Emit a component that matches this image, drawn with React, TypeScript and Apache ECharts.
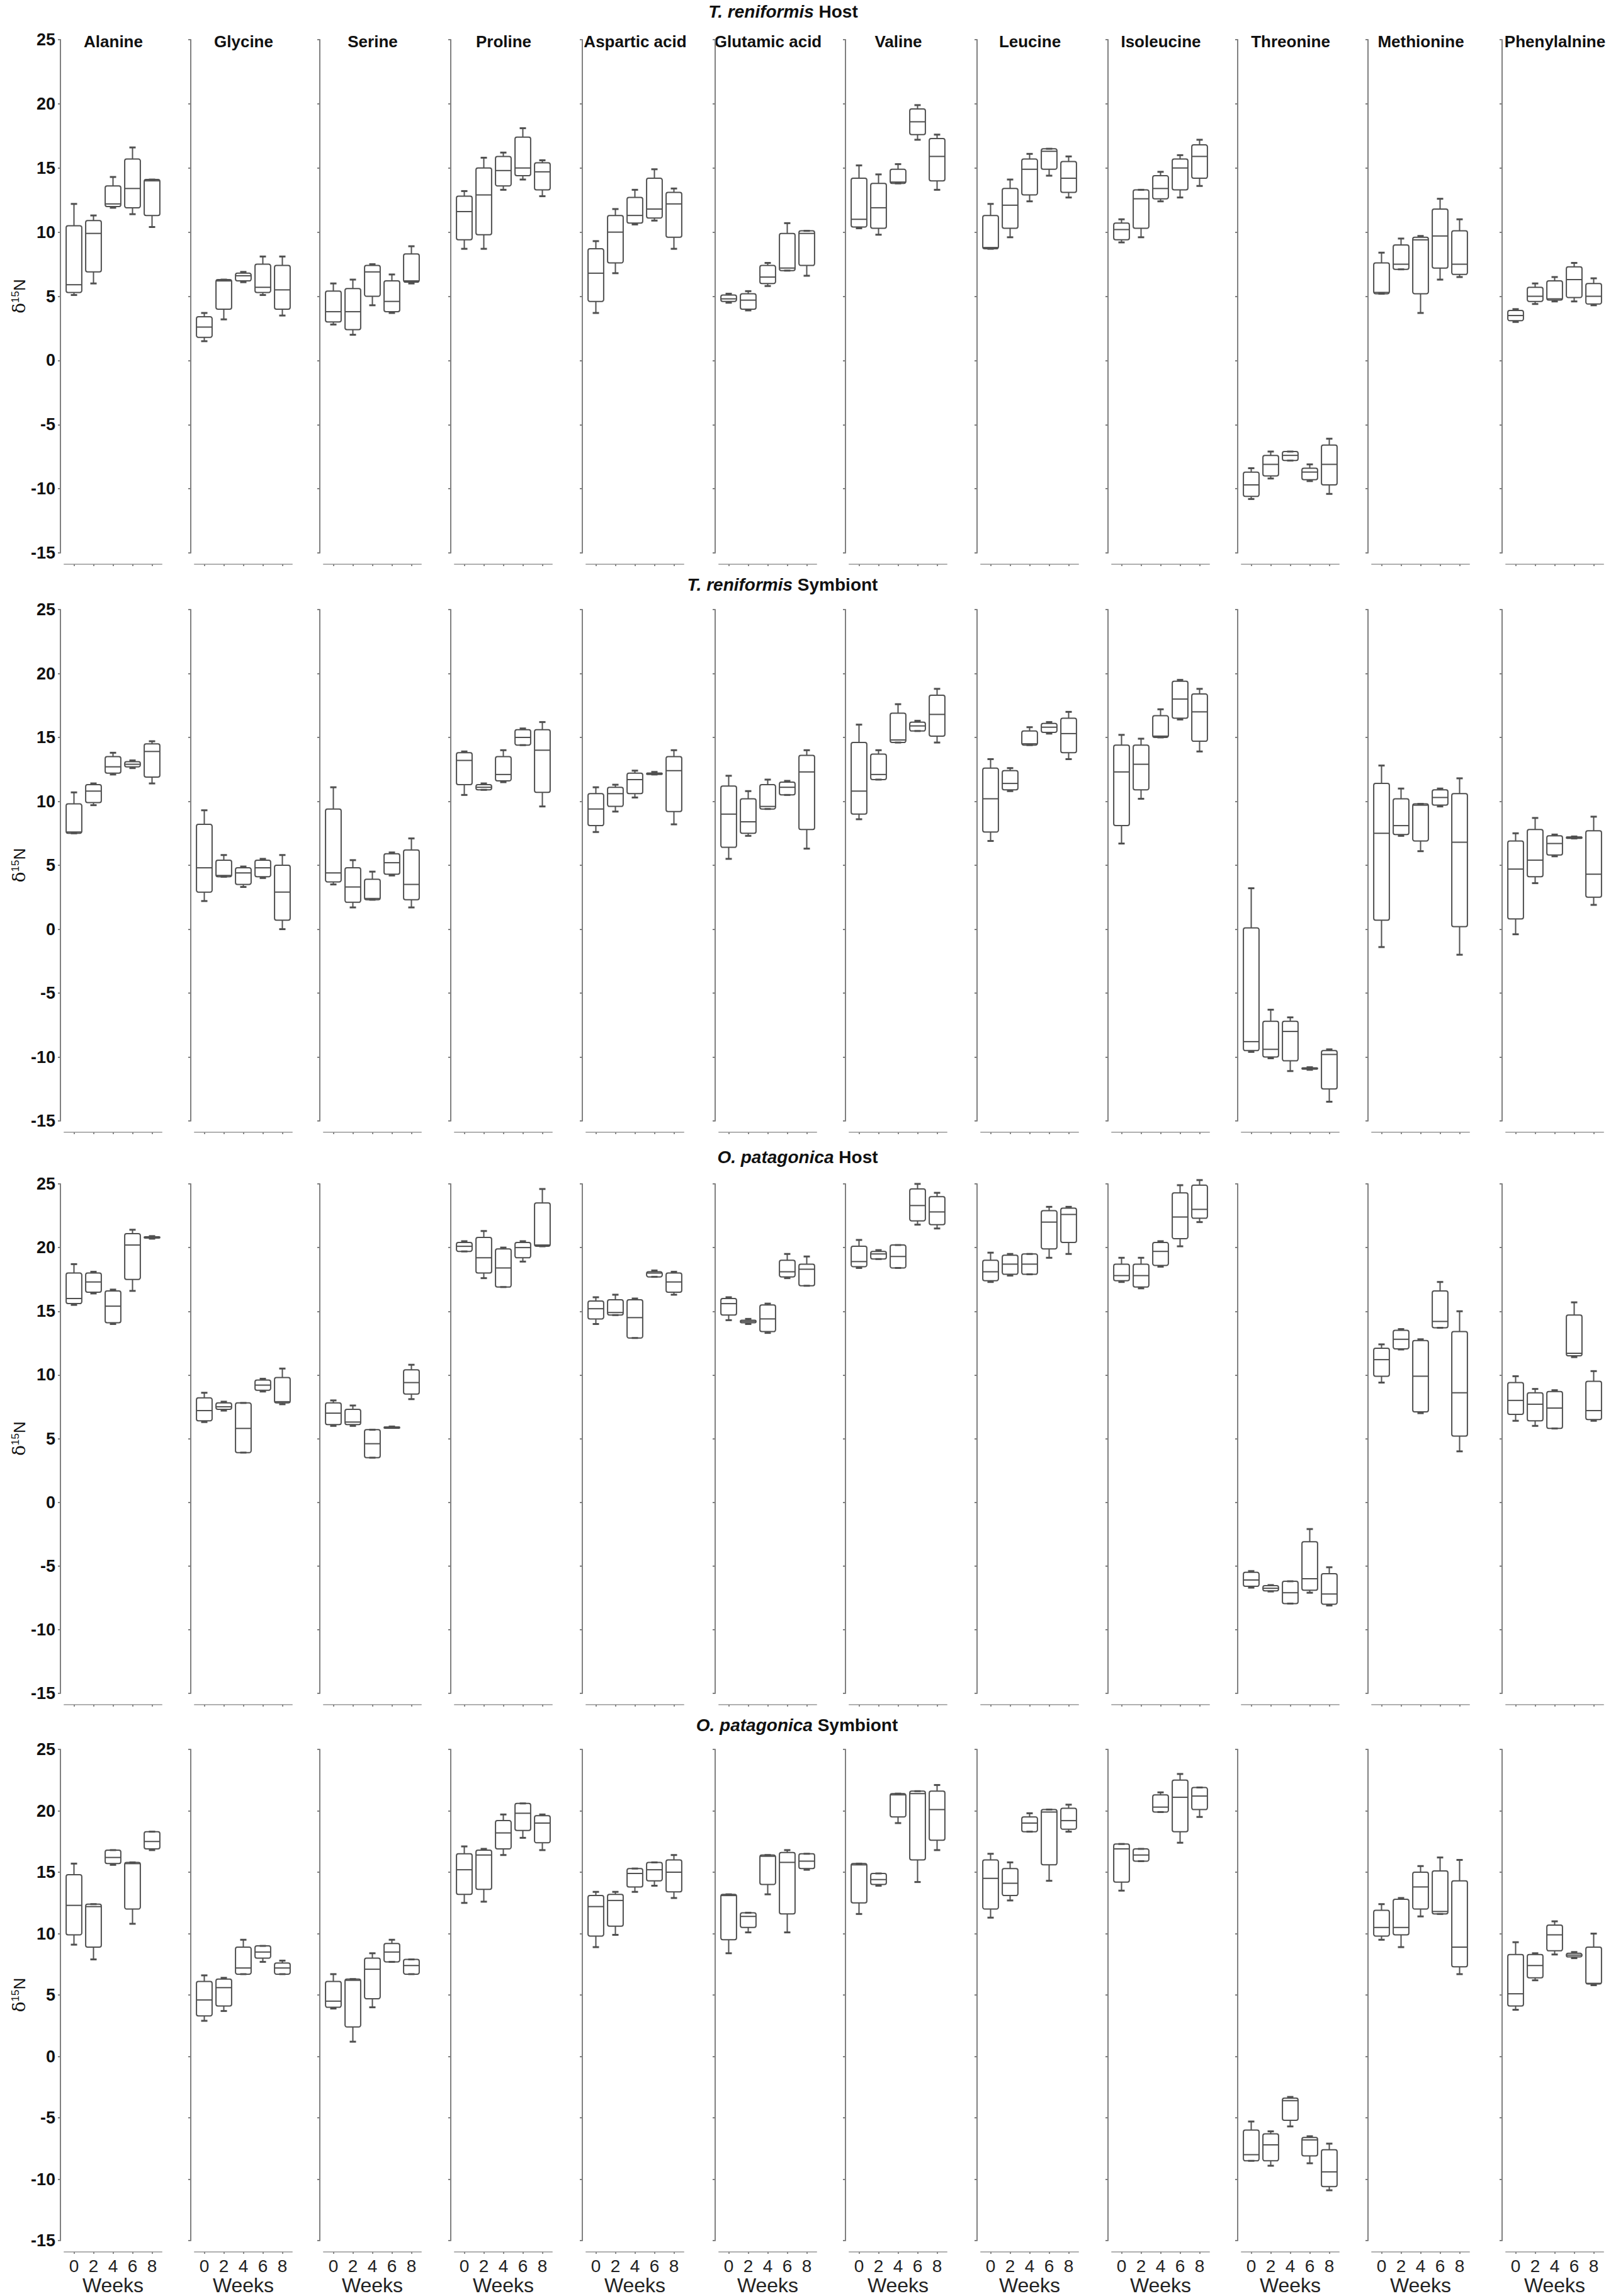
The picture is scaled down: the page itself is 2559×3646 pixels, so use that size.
import React, { useEffect, useRef } from 'react';
import * as echarts from 'echarts';

// ---------- categories / labels ----------
const weeks = ['0', '2', '4', '6', '8'];
const aminoAcids = [
  'Alanine', 'Glycine', 'Serine', 'Proline', 'Aspartic acid', 'Glutamic acid',
  'Valine', 'Leucine', 'Isoleucine', 'Threonine', 'Methionine', 'Phenylalnine',
];
const rowSpecies = ['T. reniformis', 'T. reniformis', 'O. patagonica', 'O. patagonica'];
const rowParts = ['Host', 'Symbiont', 'Host', 'Symbiont'];
const yMin = -15;
const yMax = 25;
const yStep = 5;

// ---------- data: per amino acid, 5 boxes (weeks 0..8) as [min, Q1, median, Q3, max] ----------
const trHost = [
  [[5.1, 5.3, 5.9, 10.5, 12.2], [6.0, 6.9, 9.9, 10.9, 11.3], [11.9, 12.0, 12.2, 13.6, 14.3], [11.4, 11.9, 13.4, 15.7, 16.6], [10.4, 11.3, 14.0, 14.1, 14.1]],
  [[1.5, 1.8, 2.6, 3.4, 3.7], [3.2, 4.0, 6.2, 6.3, 6.3], [6.1, 6.2, 6.6, 6.8, 6.9], [5.1, 5.3, 5.7, 7.5, 8.1], [3.5, 4.0, 5.5, 7.4, 8.1]],
  [[2.8, 3.0, 3.8, 5.4, 6.0], [2.0, 2.4, 3.8, 5.6, 6.3], [4.3, 5.0, 6.9, 7.4, 7.5], [3.7, 3.8, 4.6, 6.2, 6.7], [6.0, 6.1, 6.2, 8.3, 8.9]],
  [[8.7, 9.4, 11.6, 12.8, 13.2], [8.7, 9.8, 12.9, 15.0, 15.8], [13.3, 13.6, 14.8, 15.9, 16.2], [14.1, 14.4, 15.0, 17.4, 18.1], [12.8, 13.3, 14.7, 15.4, 15.6]],
  [[3.7, 4.6, 6.8, 8.7, 9.3], [6.8, 7.6, 10.0, 11.3, 11.8], [10.6, 10.7, 11.3, 12.7, 13.3], [10.9, 11.1, 11.8, 14.2, 14.9], [8.7, 9.6, 12.2, 13.1, 13.4]],
  [[4.5, 4.6, 4.8, 5.1, 5.2], [3.9, 4.0, 4.7, 5.2, 5.4], [5.8, 6.0, 6.5, 7.4, 7.6], [7.0, 7.0, 7.2, 9.9, 10.7], [6.6, 7.4, 9.9, 10.1, 10.1]],
  [[10.3, 10.4, 11.0, 14.2, 15.2], [9.8, 10.3, 11.9, 13.8, 14.5], [13.8, 13.8, 13.9, 14.9, 15.3], [17.2, 17.6, 18.6, 19.6, 19.9], [13.3, 14.0, 15.9, 17.3, 17.6]],
  [[8.7, 8.7, 8.8, 11.3, 12.2], [9.6, 10.3, 12.1, 13.4, 14.1], [12.4, 12.9, 14.9, 15.7, 16.1], [14.4, 14.9, 16.3, 16.5, 16.5], [12.7, 13.1, 14.2, 15.5, 15.9]],
  [[9.2, 9.4, 10.2, 10.7, 11.0], [9.6, 10.3, 12.6, 13.3, 13.3], [12.4, 12.6, 13.4, 14.4, 14.7], [12.7, 13.3, 15.0, 15.7, 16.0], [13.6, 14.2, 15.9, 16.8, 17.2]],
  [[-10.8, -10.6, -9.7, -8.7, -8.4], [-9.2, -9.0, -8.1, -7.4, -7.1], [-7.8, -7.8, -7.4, -7.1, -7.1], [-9.4, -9.3, -8.7, -8.4, -8.1], [-10.4, -9.7, -8.1, -6.6, -6.1]],
  [[5.2, 5.2, 5.3, 7.6, 8.4], [7.1, 7.1, 7.5, 9.0, 9.5], [3.7, 5.2, 9.4, 9.6, 9.7], [6.3, 7.2, 9.7, 11.8, 12.6], [6.5, 6.7, 7.5, 10.1, 11.0]],
  [[3.0, 3.1, 3.5, 3.9, 4.0], [4.4, 4.6, 5.0, 5.7, 6.0], [4.6, 4.7, 4.8, 6.2, 6.5], [4.6, 4.9, 6.3, 7.3, 7.6], [4.3, 4.4, 5.0, 6.0, 6.4]],
];

const trSymbiont = [
  [[7.5, 7.5, 7.6, 9.8, 10.7], [9.7, 9.9, 10.8, 11.3, 11.4], [12.1, 12.2, 12.7, 13.5, 13.8], [12.6, 12.7, 12.9, 13.1, 13.2], [11.4, 11.9, 13.9, 14.5, 14.7]],
  [[2.2, 2.9, 4.8, 8.2, 9.3], [4.1, 4.1, 4.2, 5.4, 5.8], [3.3, 3.5, 4.4, 4.8, 4.9], [4.0, 4.1, 4.8, 5.4, 5.5], [0.0, 0.7, 2.9, 5.0, 5.8]],
  [[3.5, 3.7, 4.4, 9.4, 11.1], [1.7, 2.1, 3.3, 4.8, 5.4], [2.3, 2.3, 2.4, 3.9, 4.5], [4.2, 4.3, 5.2, 5.9, 6.0], [1.7, 2.3, 3.5, 6.2, 7.1]],
  [[10.5, 11.3, 13.2, 13.8, 13.9], [10.9, 10.9, 11.1, 11.3, 11.4], [11.5, 11.6, 12.1, 13.5, 14.0], [14.4, 14.4, 15.0, 15.6, 15.7], [9.6, 10.7, 14.0, 15.6, 16.2]],
  [[7.6, 8.1, 9.4, 10.6, 11.1], [9.2, 9.6, 10.6, 11.1, 11.3], [10.3, 10.6, 11.7, 12.2, 12.4], [12.1, 12.1, 12.2, 12.2, 12.3], [8.2, 9.2, 12.4, 13.5, 14.0]],
  [[5.5, 6.4, 9.0, 11.2, 12.0], [7.3, 7.5, 8.4, 10.2, 10.8], [9.4, 9.4, 9.6, 11.3, 11.7], [10.5, 10.5, 11.1, 11.5, 11.6], [6.3, 7.8, 12.3, 13.6, 14.0]],
  [[8.6, 9.0, 10.8, 14.6, 16.0], [11.7, 11.7, 12.1, 13.7, 14.0], [14.6, 14.6, 14.8, 16.9, 17.6], [15.5, 15.5, 15.9, 16.2, 16.3], [14.6, 15.1, 16.8, 18.3, 18.8]],
  [[6.9, 7.6, 10.2, 12.6, 13.3], [10.8, 10.9, 11.4, 12.4, 12.6], [14.4, 14.4, 14.5, 15.5, 15.8], [15.3, 15.4, 15.8, 16.1, 16.2], [13.3, 13.8, 15.3, 16.5, 17.0]],
  [[6.7, 8.1, 12.3, 14.4, 15.2], [10.2, 10.9, 12.9, 14.4, 14.9], [15.0, 15.0, 15.1, 16.7, 17.2], [16.4, 16.5, 18.0, 19.4, 19.5], [13.9, 14.7, 17.0, 18.4, 18.8]],
  [[-9.6, -9.5, -8.8, 0.1, 3.2], [-10.1, -10.0, -9.4, -7.2, -6.3], [-11.1, -10.3, -8.0, -7.2, -6.9], [-11.0, -10.95, -10.9, -10.85, -10.8], [-13.5, -12.5, -9.8, -9.5, -9.4]],
  [[-1.4, 0.7, 7.5, 11.4, 12.8], [7.3, 7.4, 8.1, 10.2, 11.0], [6.1, 6.9, 9.7, 9.8, 9.8], [9.6, 9.7, 10.3, 10.9, 11.0], [-2.0, 0.2, 6.8, 10.6, 11.8]],
  [[-0.4, 0.8, 4.7, 6.9, 7.5], [3.6, 4.1, 5.4, 7.8, 8.7], [5.7, 5.8, 6.7, 7.3, 7.4], [7.1, 7.15, 7.2, 7.2, 7.25], [1.9, 2.5, 4.3, 7.7, 8.8]],
];

const opHost = [
  [[15.5, 15.6, 16.0, 18.0, 18.7], [16.4, 16.5, 17.3, 18.0, 18.1], [14.0, 14.1, 15.4, 16.6, 16.7], [16.6, 17.5, 20.2, 21.1, 21.4], [20.7, 20.75, 20.8, 20.85, 20.9]],
  [[6.3, 6.4, 7.2, 8.2, 8.6], [7.2, 7.3, 7.5, 7.8, 7.9], [3.9, 3.9, 5.8, 7.8, 7.8], [8.7, 8.8, 9.2, 9.6, 9.7], [7.7, 7.8, 7.9, 9.8, 10.5]],
  [[6.0, 6.1, 7.0, 7.8, 8.0], [6.0, 6.1, 6.3, 7.3, 7.6], [3.5, 3.5, 4.6, 5.7, 5.7], [5.85, 5.87, 5.9, 5.92, 5.95], [8.1, 8.5, 9.4, 10.4, 10.8]],
  [[19.7, 19.7, 20.1, 20.4, 20.5], [17.6, 18.0, 19.2, 20.8, 21.3], [16.9, 16.9, 18.4, 19.9, 20.0], [18.9, 19.2, 20.0, 20.4, 20.5], [20.1, 20.1, 20.2, 23.5, 24.6]],
  [[14.0, 14.4, 15.2, 15.8, 16.1], [14.7, 14.7, 14.9, 15.9, 16.3], [12.9, 12.9, 14.5, 15.9, 16.0], [17.7, 17.7, 18.0, 18.1, 18.2], [16.3, 16.5, 17.3, 18.0, 18.1]],
  [[14.3, 14.7, 15.6, 16.0, 16.1], [14.0, 14.1, 14.2, 14.3, 14.4], [13.3, 13.4, 14.4, 15.5, 15.6], [17.6, 17.7, 18.1, 19.0, 19.5], [17.0, 17.0, 18.3, 18.7, 19.3]],
  [[18.4, 18.5, 18.9, 20.1, 20.6], [19.1, 19.1, 19.5, 19.7, 19.8], [18.4, 18.4, 19.3, 20.2, 20.2], [21.8, 22.1, 23.3, 24.6, 25.0], [21.5, 21.8, 22.8, 24.0, 24.3]],
  [[17.3, 17.4, 18.1, 19.0, 19.6], [17.8, 17.9, 18.7, 19.4, 19.5], [17.9, 17.9, 18.7, 19.5, 19.5], [19.2, 19.9, 22.0, 22.9, 23.2], [19.5, 20.4, 22.6, 23.1, 23.2]],
  [[17.3, 17.4, 17.8, 18.7, 19.2], [16.8, 16.9, 17.8, 18.7, 19.2], [18.5, 18.6, 19.7, 20.4, 20.5], [20.1, 20.7, 22.4, 24.3, 24.9], [22.0, 22.3, 23.0, 24.9, 25.3]],
  [[-6.7, -6.6, -6.1, -5.5, -5.4], [-7.0, -6.95, -6.75, -6.55, -6.5], [-7.95, -7.95, -7.1, -6.2, -6.2], [-7.1, -6.9, -6.0, -3.1, -2.1], [-8.1, -8.0, -7.2, -5.6, -5.1]],
  [[9.4, 9.9, 11.2, 12.1, 12.4], [12.0, 12.05, 12.8, 13.5, 13.6], [7.0, 7.1, 9.9, 12.7, 12.8], [13.7, 13.7, 14.2, 16.6, 17.3], [4.0, 5.2, 8.6, 13.4, 15.0]],
  [[6.4, 6.9, 8.0, 9.4, 9.9], [6.0, 6.4, 7.7, 8.6, 8.9], [5.8, 5.8, 7.4, 8.7, 8.8], [11.4, 11.5, 11.7, 14.7, 15.7], [6.4, 6.5, 7.2, 9.5, 10.3]],
];

const opSymbiont = [
  [[9.1, 9.9, 12.3, 14.8, 15.7], [7.9, 8.9, 12.2, 12.4, 12.4], [15.6, 15.7, 16.2, 16.8, 16.8], [10.8, 12.0, 15.7, 15.8, 15.8], [16.8, 16.9, 17.5, 18.3, 18.3]],
  [[2.9, 3.3, 4.6, 6.1, 6.6], [3.7, 4.1, 5.6, 6.3, 6.4], [6.7, 6.7, 7.2, 8.9, 9.5], [7.7, 8.0, 8.5, 9.0, 9.0], [6.7, 6.7, 7.2, 7.6, 7.8]],
  [[3.9, 4.0, 4.5, 6.1, 6.7], [1.2, 2.4, 6.2, 6.3, 6.3], [4.0, 4.7, 7.1, 8.0, 8.4], [7.7, 7.7, 8.5, 9.2, 9.5], [6.7, 6.7, 7.4, 7.9, 7.9]],
  [[12.5, 13.2, 15.2, 16.5, 17.1], [12.6, 13.6, 16.4, 16.8, 16.9], [16.4, 16.9, 18.2, 19.2, 19.7], [17.8, 18.4, 19.8, 20.6, 20.6], [16.8, 17.4, 19.0, 19.6, 19.7]],
  [[8.9, 9.8, 12.2, 13.1, 13.4], [9.9, 10.6, 12.7, 13.2, 13.4], [13.4, 13.8, 14.9, 15.3, 15.3], [13.9, 14.3, 15.2, 15.8, 15.8], [12.9, 13.4, 15.0, 16.0, 16.4]],
  [[8.4, 9.5, 13.1, 13.2, 13.2], [10.1, 10.5, 11.4, 11.7, 11.7], [13.2, 14.0, 16.3, 16.4, 16.4], [10.1, 11.6, 15.8, 16.6, 16.8], [15.2, 15.3, 15.9, 16.5, 16.5]],
  [[11.6, 12.5, 15.6, 15.7, 15.7], [13.9, 14.0, 14.4, 14.9, 14.9], [19.0, 19.5, 21.3, 21.4, 21.4], [14.2, 16.0, 21.4, 21.6, 21.6], [16.8, 17.6, 20.1, 21.6, 22.1]],
  [[11.3, 12.0, 14.5, 16.0, 16.5], [12.7, 13.1, 14.1, 15.3, 15.8], [18.3, 18.3, 19.0, 19.5, 19.8], [14.3, 15.6, 19.9, 20.1, 20.1], [18.3, 18.5, 19.2, 20.2, 20.5]],
  [[13.5, 14.2, 16.9, 17.3, 17.3], [15.9, 15.9, 16.4, 16.9, 16.9], [19.9, 19.9, 20.3, 21.3, 21.5], [17.4, 18.3, 21.1, 22.5, 23.0], [19.5, 20.1, 21.2, 21.9, 21.9]],
  [[-8.5, -8.5, -8.0, -6.0, -5.3], [-8.9, -8.5, -7.2, -6.3, -6.1], [-5.7, -5.2, -3.6, -3.4, -3.3], [-8.7, -8.1, -6.8, -6.6, -6.5], [-10.9, -10.6, -9.4, -7.6, -7.1]],
  [[9.5, 9.8, 10.5, 11.9, 12.4], [8.9, 9.9, 10.5, 12.8, 12.9], [11.4, 12.0, 13.8, 15.0, 15.5], [11.6, 11.6, 11.8, 15.1, 16.2], [6.7, 7.3, 8.9, 14.3, 16.0]],
  [[3.8, 4.1, 5.1, 8.3, 9.3], [6.2, 6.4, 7.4, 8.3, 8.4], [8.3, 8.6, 9.9, 10.7, 11.0], [8.0, 8.1, 8.25, 8.4, 8.5], [5.8, 5.9, 5.95, 8.9, 10.0]],
];

const rowsData = [trHost, trSymbiont, opHost, opSymbiont];

// ---------- layout ----------
const W = 2559;
const H = 3646;
const FONT = '"Liberation Sans", Arial, Helvetica, sans-serif';
const PANEL_X = [96, 303, 508, 716, 925, 1136, 1343, 1552, 1760, 1966, 2173, 2386];
const ROW_TOP = [63, 968, 1880, 2778];
const ROW_BOTTOM = [878, 1780, 2689, 3563];
const ROW_TITLE_Y = [18, 928, 1837, 2739];
const ROW_TITLE_X = [1244, 1243, 1267, 1266];
const PLOT_W = 155;
const BOX_COLOR = '#505050';

const renderBox = (params: any, api: any) => {
  const i = api.value(0);
  const pMin = api.coord([i, api.value(1)]);
  const pQ1 = api.coord([i, api.value(2)]);
  const pMed = api.coord([i, api.value(3)]);
  const pQ3 = api.coord([i, api.value(4)]);
  const pMax = api.coord([i, api.value(5)]);
  const band = api.size([1, 0])[0];
  const w = band * 0.8;
  const cx = pMed[0];
  const cap = 5;
  const st = { stroke: BOX_COLOR, lineWidth: 2, fill: 'none' };
  const capSt = { stroke: BOX_COLOR, lineWidth: 3, fill: 'none' };
  return {
    type: 'group',
    children: [
      { type: 'line', shape: { x1: cx, y1: pMax[1], x2: cx, y2: pQ3[1] }, style: st },
      { type: 'line', shape: { x1: cx, y1: pQ1[1], x2: cx, y2: pMin[1] }, style: st },
      { type: 'line', shape: { x1: cx - cap, y1: pMax[1], x2: cx + cap, y2: pMax[1] }, style: capSt },
      { type: 'line', shape: { x1: cx - cap, y1: pMin[1], x2: cx + cap, y2: pMin[1] }, style: capSt },
      {
        type: 'rect',
        shape: { x: cx - w / 2, y: pQ3[1], width: w, height: Math.max(pQ1[1] - pQ3[1], 2), r: 3 },
        style: st,
      },
      { type: 'line', shape: { x1: cx - w / 2, y1: pMed[1], x2: cx + w / 2, y2: pMed[1] }, style: st },
    ],
  };
};

function buildOption() {
  const grid: any[] = [];
  const xAxis: any[] = [];
  const yAxis: any[] = [];
  const series: any[] = [];
  const graphic: any[] = [];

  for (let r = 0; r < 4; r++) {
    for (let c = 0; c < 12; c++) {
      const idx = r * 12 + c;
      grid.push({
        left: PANEL_X[c] + 6,
        top: ROW_TOP[r],
        width: PLOT_W,
        height: ROW_BOTTOM[r] - ROW_TOP[r],
        containLabel: false,
      });
      xAxis.push({
        gridIndex: idx,
        type: 'category',
        position: 'bottom',
        data: weeks,
        offset: 18,
        axisLine: { onZero: false, lineStyle: { color: '#b0b0b0', width: 2 } },
        axisTick: { show: true, alignWithLabel: true, length: 3, lineStyle: { color: '#888', width: 2 } },
        axisLabel: { show: r === 3, fontSize: 28, color: '#222', margin: 8, fontFamily: FONT },
        name: r === 3 ? 'Weeks' : '',
        nameLocation: 'middle',
        nameGap: 36,
        nameTextStyle: { fontSize: 32, color: '#222', fontFamily: FONT },
        splitLine: { show: false },
      });
      yAxis.push({
        gridIndex: idx,
        type: 'value',
        position: 'left',
        min: yMin,
        max: yMax,
        interval: yStep,
        offset: 6,
        axisLine: { show: true, onZero: false, lineStyle: { color: '#808080', width: 2 } },
        axisTick: { show: true, length: 4, lineStyle: { color: '#808080', width: 2 } },
        splitLine: { show: false },
        axisLabel: {
          show: c === 0,
          fontSize: 27,
          fontWeight: 'bold',
          color: '#111',
          margin: 8,
          fontFamily: FONT,
        },
        name: c === 0 ? '{d|δ}{s|15}{n|N}' : '',
        nameLocation: 'middle',
        nameRotate: 90,
        nameGap: 52,
        nameTextStyle: {
          color: '#111',
          rich: {
            d: { fontFamily: '"DejaVu Serif", serif', fontSize: 28, color: '#111', verticalAlign: 'bottom' },
            s: { fontFamily: FONT, fontSize: 17, color: '#111', verticalAlign: 'top' },
            n: { fontFamily: FONT, fontSize: 26, color: '#111', verticalAlign: 'bottom' },
          },
        },
      });
      series.push({
        type: 'custom',
        name: `${rowSpecies[r]} ${rowParts[r]} – ${aminoAcids[c]}`,
        xAxisIndex: idx,
        yAxisIndex: idx,
        renderItem: renderBox,
        clip: false,
        silent: true,
        encode: { x: 0, y: [1, 2, 3, 4, 5] },
        data: rowsData[r][c].map((b: number[], i: number) => [i, ...b]),
      });
    }
    graphic.push({
      type: 'text',
      x: ROW_TITLE_X[r],
      y: ROW_TITLE_Y[r],
      style: {
        text: `{i|${rowSpecies[r]}} {b|${rowParts[r]}}`,
        align: 'center',
        verticalAlign: 'middle',
        fontSize: 28,
        fontWeight: 'bold',
        fontFamily: FONT,
        fill: '#111',
        rich: {
          i: { fontStyle: 'italic', fontWeight: 'bold', fontSize: 28, fontFamily: FONT, fill: '#111' },
          b: { fontWeight: 'bold', fontSize: 28, fontFamily: FONT, fill: '#111' },
        },
      },
    });
  }

  for (let c = 0; c < 12; c++) {
    graphic.push({
      type: 'text',
      x: PANEL_X[c] + 84,
      y: 66,
      style: {
        text: aminoAcids[c],
        align: 'center',
        verticalAlign: 'middle',
        fontSize: 26,
        fontWeight: 'bold',
        fontFamily: FONT,
        fill: '#111',
      },
    });
  }

  return {
    animation: false,
    backgroundColor: '#ffffff',
    textStyle: { fontFamily: FONT },
    grid,
    xAxis,
    yAxis,
    series,
    graphic,
  };
}

export default function App() {
  const ref = useRef<HTMLDivElement>(null);
  useEffect(() => {
    if (!ref.current) return;
    const chart = echarts.init(ref.current, null, { renderer: 'svg' });
    chart.setOption(buildOption() as any);
    return () => chart.dispose();
  }, []);
  return (
    <div
      ref={ref}
      style={{ position: 'absolute', left: 0, top: 0, width: W, height: H, background: '#fff' }}
    />
  );
}
